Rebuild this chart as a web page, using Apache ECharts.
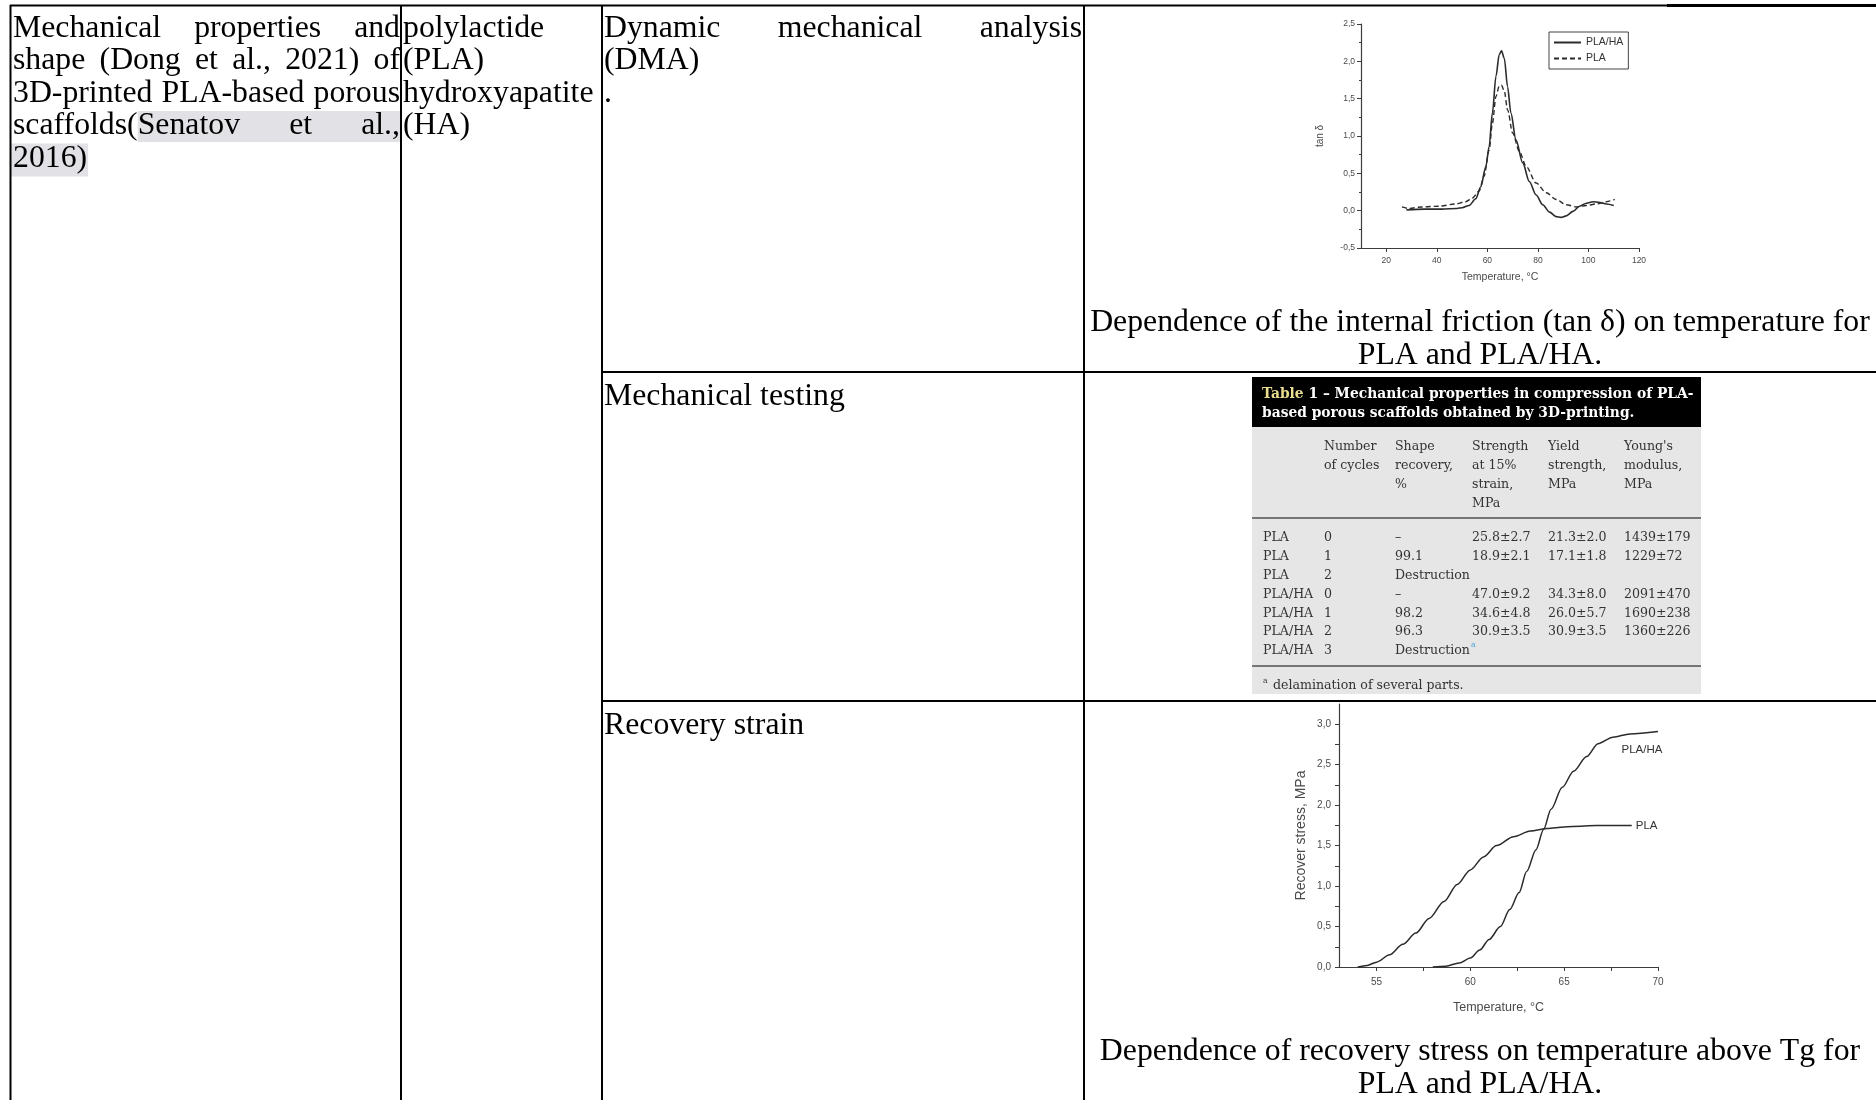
<!DOCTYPE html>
<html><head><meta charset="utf-8">
<script src="https://cdn.jsdelivr.net/npm/echarts@6/dist/echarts.min.js"></script>
<style>html,body{margin:0;padding:0;background:#fff}#c{width:1876px;height:1100px}</style>
</head><body><div id="c"></div>
<script>
// ---------- DMA chart: tan δ vs temperature ----------
const dmaTempPLAHA = [28,35,42,48,50,52.8,55.4,57.4,59.4,60.7,62,63.4,64.7,65.6,66.7,68,69.3,71.3,74,76.6,79.3,81.9,84.6,87.2,89.2,91.2,93.9,96.5,99.2,101.8,104.5,107.1,110];
const dmaTanPLAHA  = [0.01,0.02,0.02,0.03,0.04,0.07,0.16,0.32,0.59,0.86,1.31,1.80,2.09,2.14,2.04,1.66,1.31,0.95,0.64,0.39,0.21,0.08,-0.02,-0.08,-0.09,-0.07,-0.01,0.06,0.10,0.12,0.11,0.09,0.07];
const dmaTempPLA   = [26.2,28.9,34.2,40.8,47.5,51.4,54.1,56.7,58.7,60.7,62,63.4,64.7,65.6,66.7,68,70,72.7,75.4,79.3,83.3,87.2,91.2,95.2,99.2,103.2,107.1,110.4];
const dmaTanPLA    = [0.05,0.03,0.05,0.06,0.09,0.12,0.17,0.26,0.46,0.81,1.17,1.53,1.67,1.68,1.60,1.35,1.04,0.79,0.59,0.37,0.24,0.15,0.08,0.05,0.07,0.09,0.12,0.15];
const dmaXLabels = [20,40,60,80,100,120];
const dmaYTicks  = [-0.5,0,0.5,1,1.5,2,2.5];

// ---------- Recovery stress vs temperature ----------
const recTempPLA     = [54.0,54.5,55.0,55.7,56.4,57.1,57.8,58.6,59.3,60.0,60.7,61.4,62.3,63.2,64.1,65.0,65.9,66.7,67.6,68.6];
const recStressPLA   = [0,0.02,0.06,0.15,0.28,0.42,0.60,0.81,1.02,1.20,1.36,1.50,1.61,1.68,1.71,1.73,1.74,1.75,1.75,1.75];
const recTempPLAHA   = [58.0,58.7,59.4,60.0,60.5,61.0,61.6,62.1,62.6,63.0,63.5,63.9,64.3,64.9,65.5,66.2,66.8,67.6,68.5,70.0];
const recStressPLAHA = [0,0.01,0.05,0.11,0.21,0.34,0.50,0.71,0.92,1.18,1.45,1.70,1.95,2.22,2.42,2.60,2.76,2.84,2.88,2.91];
const recXLabels = [55,60,65,70];
const recXTicks  = [55,57.5,60,62.5,65,67.5,70];
const recYLabels = [0,0.5,1,1.5,2,2.5,3];
const recYTicks  = [0,0.25,0.5,0.75,1,1.25,1.5,1.75,2,2.25,2.5,2.75,3];

// ---------- Texts ----------
const col1Lines = [['Mechanical','properties','and'],['shape','(Dong','et','al.,','2021)','of'],['3D-printed','PLA-based','porous'],['scaffolds(Senatov','et','al.,'],['2016)']];
const col2Lines = ['polylactide','(PLA)','hydroxyapatite','(HA)'];
const col3Row1  = [['Dynamic','mechanical','analysis'],['(DMA)'],['.']];
const col3Row2  = 'Mechanical testing';
const col3Row3  = 'Recovery strain';
const caption1  = ['Dependence of the internal friction (tan δ) on temperature for','PLA and PLA/HA.'];
const caption2  = ['Dependence of recovery stress on temperature above Tg for','PLA and PLA/HA.'];

// ---------- Embedded table 1 ----------
const tblTitle = ['Table',' 1 – Mechanical properties in compression of PLA-','based porous scaffolds obtained by 3D-printing.'];
const tblHead = [[],['Number','of cycles'],['Shape','recovery,','%'],['Strength','at 15%','strain,','MPa'],['Yield','strength,','MPa'],["Young's",'modulus,','MPa']];
const tblRows = [
  ['PLA','0','–','25.8±2.7','21.3±2.0','1439±179'],
  ['PLA','1','99.1','18.9±2.1','17.1±1.8','1229±72'],
  ['PLA','2','Destruction','','',''],
  ['PLA/HA','0','–','47.0±9.2','34.3±8.0','2091±470'],
  ['PLA/HA','1','98.2','34.6±4.8','26.0±5.7','1690±238'],
  ['PLA/HA','2','96.3','30.9±3.5','30.9±3.5','1360±226'],
  ['PLA/HA','3','Destruction*','','','']
];
const tblFoot = 'delamination of several parts.';

// ---------- helpers ----------
const SERIF = '"Liberation Serif","Times New Roman",serif';
const TSERIF = '"DejaVu Serif",serif';
const SANS = '"Liberation Sans",Arial,sans-serif';
const mctx = document.createElement('canvas').getContext('2d');
function tw(t, font){ mctx.font = font; return mctx.measureText(t).width; }
function fit(t, fam, weight, target){ return target / tw(t, weight + ' 100px ' + fam) * 100; }

const G = [];
function txt(t, x, y, font, fill, align, z){
  G.push({type:'text', x:x, y:y, silent:true, z:z||10, style:{text:t, font:font, fill:fill||'#000', align:align||'left', verticalAlign:'middle'}});
}
function ln(x1,y1,x2,y2,w,c){ G.push({type:'line', silent:true, z:6, shape:{x1:x1,y1:y1,x2:x2,y2:y2}, style:{stroke:c||'#000', lineWidth:w||2}}); }
function rc(x,y,w,h,fill,z){ G.push({type:'rect', silent:true, z:z||1, shape:{x:x,y:y,width:w,height:h}, style:{fill:fill}}); }

const FS = Math.max(24, Math.min(34, fit(caption1[0], SERIF, 'normal', 780)));
const MF = FS + 'px ' + SERIF;
function justify(words, x0, x1, y){
  const ws = words.map(w => tw(w, MF));
  const sum = ws.reduce((a,b)=>a+b,0);
  const gap = words.length > 1 ? (x1 - x0 - sum) / (words.length - 1) : 0;
  let x = x0; const pos = [];
  words.forEach((w,i)=>{ txt(w, x, y, MF); pos.push(x); x += ws[i] + gap; });
  return pos;
}

// outer table borders
ln(10, 5.5, 1876, 5.5, 2);
ln(1667, 5.5, 1876, 5.5, 3);
ln(10.5, 5, 10.5, 1100, 2);
ln(401, 5, 401, 1100, 2);
ln(602, 5, 602, 1100, 2);
ln(1084, 5, 1084, 1100, 2);
ln(602, 372, 1876, 372, 2);
ln(602, 701, 1876, 701, 2);

// column 1
const LY = [28.5, 61, 93.5, 126, 158.5];
col1Lines.forEach((words, i) => {
  if (words.length > 1) {
    const pos = justify(words, 13, 400, LY[i]);
    if (i === 3) {
      const sx = pos[0] + tw('scaffolds(', MF);
      rc(sx, LY[i] - 15, 400 - sx, 31, '#e2e2e6', 2);
    }
  } else {
    txt(words[0], 13, LY[i], MF);
    rc(11, LY[i] - 15, tw(words[0], MF) + 3, 33, '#e2e2e6', 2);
  }
});
// column 2
col2Lines.forEach((t, i) => txt(t, 403, LY[i], MF));
// column 3
col3Row1.forEach((words, i) => {
  if (words.length > 1) justify(words, 604, 1082, LY[i]); else txt(words[0], 604, LY[i], MF);
});
txt(col3Row2, 604, 396.5, MF);
txt(col3Row3, 604, 725.5, MF);
// captions
txt(caption1[0], 1480, 322.5, MF, '#000', 'center');
txt(caption1[1], 1480, 355.5, MF, '#000', 'center');
txt(caption2[0], 1480, 1051.5, MF, '#000', 'center');
txt(caption2[1], 1480, 1084.5, MF, '#000', 'center');

// embedded table
rc(1252, 377, 449, 50, '#000', 2);
rc(1252, 427, 449, 267, '#e6e6e6', 2);
const TFS = fit(tblTitle[0] + tblTitle[1], TSERIF, 'bold', 432);
const TF = 'bold ' + TFS + 'px ' + TSERIF;
txt(tblTitle[0], 1262, 394, TF, '#e9dd8f');
txt(tblTitle[1], 1262 + tw(tblTitle[0], TF), 394, TF, '#ffffff');
txt(tblTitle[2], 1262, 413, TF, '#ffffff');
const BFS = fit('Destruction', TSERIF, 'normal', 75);
const BF = BFS + 'px ' + TSERIF;
const colX = [1263, 1324, 1395, 1472, 1548, 1624];
const headY = [447, 466, 485, 504];
tblHead.forEach((cell, c) => cell.forEach((t, r) => txt(t, colX[c], headY[r], BF, '#333')));
ln(1252, 518, 1701, 518, 1.6, '#505050');
const rowY = [538, 557, 576, 595, 614, 632, 651];
tblRows.forEach((row, r) => row.forEach((t, c) => {
  if (!t) return;
  if (t.endsWith('*')) {
    const base = t.slice(0, -1);
    txt(base, colX[c], rowY[r], BF, '#333');
    txt('a', colX[c] + tw(base, BF) + 1, rowY[r] - 6, (BFS * 0.62) + 'px ' + TSERIF, '#3d9bd6');
  } else txt(t, colX[c], rowY[r], BF, '#333');
}));
ln(1252, 666, 1701, 666, 1.6, '#505050');
txt('a', 1263, 681, (BFS * 0.62) + 'px ' + TSERIF, '#333');
txt(tblFoot, 1273, 686, BF, '#333');

// ---------- charts ----------
const fmt = v => (Math.round(v * 10) / 10).toFixed(1).replace('.', ',');
const zip = (xs, ys) => xs.map((x, i) => [x, ys[i]]);
const AX = '#3c3c3c', LAB = '#4a4a4a', LINE = '#2b2b2b';
function axis(o){
  return Object.assign({
    type:'value', splitLine:{show:false},
    axisLine:{show:true, onZero:false, lineStyle:{color:AX, width:1.2}},
    nameLocation:'middle'
  }, o);
}

const option = {
  backgroundColor:'#fff',
  animation:false,
  grid:[
    {left:1361, top:24, width:278, height:224},
    {left:1339, top:704, width:319, height:263}
  ],
  legend:{
    data:['PLA/HA','PLA'], selectedMode:false, orient:'vertical',
    left:1549, top:32, itemWidth:27, itemHeight:8, itemGap:5,
    padding:[5,5,5,4], borderColor:'#444', borderWidth:1,
    itemStyle:{opacity:0},
    textStyle:{fontSize:10.5, color:'#333', fontFamily:SANS}
  },
  xAxis:[
    axis({gridIndex:0, min:10, max:120,
      axisTick:{show:true, length:4, customValues:dmaXLabels, lineStyle:{color:AX}},
      axisLabel:{customValues:dmaXLabels, fontSize:8.5, color:LAB, margin:8, fontFamily:SANS},
      name:'Temperature, °C', nameGap:24, nameTextStyle:{fontSize:10.5, color:LAB, fontFamily:SANS}}),
    axis({gridIndex:1, min:53, max:70,
      axisTick:{show:true, length:4, customValues:recXTicks, lineStyle:{color:AX}},
      axisLabel:{customValues:recXLabels, fontSize:10, color:LAB, margin:10, fontFamily:SANS},
      name:'Temperature, °C', nameGap:34, nameTextStyle:{fontSize:12.5, color:LAB, fontFamily:SANS}})
  ],
  yAxis:[
    axis({gridIndex:0, min:-0.5, max:2.5, interval:0.5,
      axisTick:{show:true, length:4, lineStyle:{color:AX}},
      minorTick:{show:true, splitNumber:2, length:2, lineStyle:{color:AX}},
      axisLabel:{formatter:fmt, fontSize:8.5, color:LAB, margin:6, fontFamily:SANS},
      name:'tan δ', nameGap:36, nameTextStyle:{fontSize:10, color:LAB, fontFamily:SANS}}),
    axis({gridIndex:1, min:0, max:3.25,
      axisTick:{show:true, length:4, customValues:recYTicks, lineStyle:{color:AX}},
      axisLabel:{customValues:recYLabels, formatter:fmt, fontSize:10, color:LAB, margin:8, fontFamily:SANS},
      name:'Recover stress, MPa', nameGap:31, nameTextStyle:{fontSize:14, color:LAB, fontFamily:SANS}})
  ],
  series:[
    {name:'PLA/HA', type:'line', xAxisIndex:0, yAxisIndex:0, symbol:'none', smooth:0.3, smoothMonotone:'x',
      data:zip(dmaTempPLAHA, dmaTanPLAHA), lineStyle:{color:LINE, width:1.6}, itemStyle:{color:LINE}},
    {name:'PLA', type:'line', xAxisIndex:0, yAxisIndex:0, symbol:'none', smooth:0.3, smoothMonotone:'x',
      data:zip(dmaTempPLA, dmaTanPLA), lineStyle:{color:LINE, width:1.4, type:[5,3]}, itemStyle:{color:LINE}},
    {name:'PLA/HA recovery', type:'line', xAxisIndex:1, yAxisIndex:1, symbol:'none', smooth:0.3, smoothMonotone:'x',
      data:zip(recTempPLAHA, recStressPLAHA), lineStyle:{color:LINE, width:1.5}, itemStyle:{color:LINE},
      endLabel:{show:true, formatter:'PLA/HA', distance:0, align:'center', verticalAlign:'middle', offset:[-16,18],
        fontSize:11.5, color:'#333', fontFamily:SANS}},
    {name:'PLA recovery', type:'line', xAxisIndex:1, yAxisIndex:1, symbol:'none', smooth:0.3, smoothMonotone:'x',
      data:zip(recTempPLA, recStressPLA), lineStyle:{color:LINE, width:1.5}, itemStyle:{color:LINE},
      endLabel:{show:true, formatter:'PLA', distance:4, fontSize:11.5, color:'#333', fontFamily:SANS}}
  ],
  graphic:{elements:G}
};
const chart = echarts.init(document.getElementById('c'), null, {renderer:'canvas', width:1876, height:1100});
chart.setOption(option);
</script></body></html>
